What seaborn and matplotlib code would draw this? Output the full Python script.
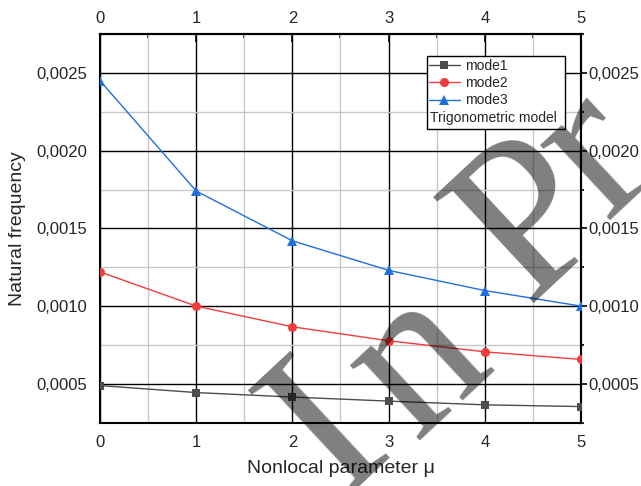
import numpy as np
import pandas as pd
import matplotlib
matplotlib.use('Agg')
import matplotlib.pyplot as plt
import seaborn as sns
from matplotlib.patches import Rectangle
from matplotlib.ticker import FixedLocator, MultipleLocator, FixedFormatter

# ---- data ----
mu = [0, 1, 2, 3, 4, 5]
mode1 = [0.000489, 0.000444, 0.000415, 0.000389, 0.000365, 0.000354]
mode2 = [0.00122, 0.00100, 0.000867, 0.000777, 0.000706, 0.000657]
mode3 = [0.00245, 0.00174, 0.00142, 0.00123, 0.00110, 0.00100]
modes = ['mode1', 'mode2', 'mode3']
x_ticks = [0, 1, 2, 3, 4, 5]
y_ticks = [0.0005, 0.0010, 0.0015, 0.0020, 0.0025]
y_tick_labels = ['0,0005', '0,0010', '0,0015', '0,0020', '0,0025']
legend_note = 'Trigonometric model'
watermark_letters = ['I', 'n', 'P', 'r']

sns.set_theme(style='white')
plt.rcParams['font.family'] = ['Liberation Sans', 'DejaVu Sans']

df = pd.DataFrame({
    'mu': mu * 3,
    'freq': mode1 + mode2 + mode3,
    'mode': [m for m in modes for _ in mu],
})

W, H = 641, 486
fig = plt.figure(figsize=(W / 100, H / 100), dpi=100)
ax = fig.add_axes([0.1560, 0.1302, 0.7504, 0.7998])

palette = {'mode1': '#4d4d4d', 'mode2': '#f03c3c', 'mode3': '#1f6fdc'}
markers = {'mode1': 's', 'mode2': 'o', 'mode3': '^'}
sns.lineplot(data=df, x='mu', y='freq', hue='mode', style='mode',
             palette=palette, markers=markers, dashes=False,
             markersize=7, markeredgewidth=0, linewidth=1,
             legend=False, ax=ax, zorder=3)
sizes = {'mode1': 5.5, 'mode2': 6.5, 'mode3': 7.5}
lines = ax.lines[:3]
for ln, m in zip(lines, modes):
    ln.set_markersize(sizes[m])

ax.set_xlim(0, 5)
ax.set_ylim(0.00025, 0.00275)

ax.xaxis.set_major_locator(FixedLocator(x_ticks))
ax.xaxis.set_minor_locator(MultipleLocator(0.5))
ax.yaxis.set_major_locator(FixedLocator(y_ticks))
ax.yaxis.set_major_formatter(FixedFormatter(y_tick_labels))
ax.yaxis.set_minor_locator(MultipleLocator(0.00025))

ax.tick_params(which='both', direction='out', top=False, right=False,
               labelsize=12, color='black', width=1.2)
ax.tick_params(which='major', length=6)
ax.tick_params(which='minor', length=3)
ax.tick_params(axis='x', which='major', pad=3)
ax.tick_params(axis='y', which='major', pad=3)

# top axis (ticks pointing inward)
secx = ax.secondary_xaxis('top')
secx.xaxis.set_major_locator(FixedLocator(x_ticks))
secx.xaxis.set_minor_locator(MultipleLocator(0.5))
secx.tick_params(which='both', direction='in', labelsize=12, width=1.2, color='black')
secx.tick_params(which='major', length=6, pad=5.5)
secx.tick_params(which='minor', length=3)
secx.spines['top'].set_linewidth(1.5)
secx.spines['top'].set_color('black')

# right axis
secy = ax.secondary_yaxis('right')
secy.yaxis.set_major_locator(FixedLocator(y_ticks))
secy.yaxis.set_major_formatter(FixedFormatter(y_tick_labels))
secy.yaxis.set_minor_locator(MultipleLocator(0.00025))
secy.tick_params(which='both', direction='out', labelsize=12, width=1.2, color='black')
secy.tick_params(which='major', length=4, pad=1.5)
secy.tick_params(which='minor', length=2.5)
secy.spines['right'].set_linewidth(1.5)
secy.spines['right'].set_color('black')

for s in ax.spines.values():
    s.set_linewidth(1.5)
    s.set_color('black')

ax.set_axisbelow(True)
ax.grid(which='major', color='black', linewidth=1)
ax.grid(which='minor', color='#c8c8c8', linewidth=1)

ax.set_xlabel('Nonlocal parameter μ', fontsize=14, labelpad=7)
ax.set_ylabel('Natural frequency', fontsize=14, labelpad=8)

# legend box
ax.add_patch(Rectangle((0.679, 0.7556), 0.288, 0.1874, transform=ax.transAxes,
                       facecolor='white', edgecolor='black', linewidth=1, zorder=5))
ax.text(0.686, 0.784, legend_note, transform=ax.transAxes, fontsize=10,
        ha='left', va='center', zorder=6)
leg = ax.legend(handles=lines, labels=modes, loc='upper left',
                bbox_to_anchor=(0.683, 0.935), frameon=False, fontsize=10,
                handlelength=2.3, handletextpad=0.35, labelspacing=0.22,
                borderpad=0, borderaxespad=0)
leg.set_zorder(7)

# "In Press" watermark (letter-spaced), baseline centres in pixels
wm_pos = [(367, 472), (455, 402), (572, 262), (632, 194)]
for ch, (px, py) in zip(watermark_letters, wm_pos):
    fig.text(px / W, 1 - py / H, ch, rotation=43, rotation_mode='anchor',
             ha='center', va='baseline', fontsize=160, family='Liberation Serif',
             color='black', alpha=0.5, zorder=10)

fig.savefig('out.png', dpi=100)
